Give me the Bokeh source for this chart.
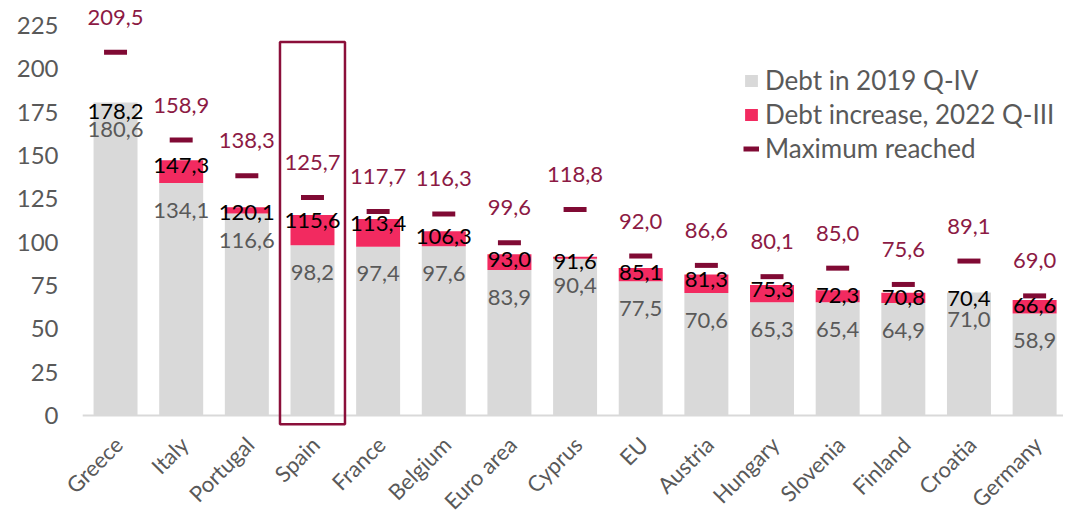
import math
from bokeh.plotting import figure
from bokeh.models import (ColumnDataSource, Legend, LegendItem,
                          FixedTicker, Range1d)
from bokeh.core.properties import value
from bokeh.embed import file_html
from bokeh.resources import INLINE

# ---------------- data ----------------
countries = ["Greece", "Italy", "Portugal", "Spain", "France", "Belgium",
             "Euro area", "Cyprus", "EU", "Austria", "Hungary", "Slovenia",
             "Finland", "Croatia", "Germany"]
debt_2019 = [180.6, 134.1, 116.6, 98.2, 97.4, 97.6, 83.9, 90.4, 77.5, 70.6,
             65.3, 65.4, 64.9, 71.0, 58.9]
debt_2022 = [178.2, 147.3, 120.1, 115.6, 113.4, 106.3, 93.0, 91.6, 85.1, 81.3,
             75.3, 72.3, 70.8, 70.4, 66.6]
max_reached = [209.5, 158.9, 138.3, 125.7, 117.7, 116.3, 99.6, 118.8, 92.0,
               86.6, 80.1, 85.0, 75.6, 89.1, 69.0]
y_ticks = [0, 25, 50, 75, 100, 125, 150, 175, 200, 225]
highlight = "Spain"
legend_labels = ["Debt in 2019 Q-IV", "Debt increase, 2022 Q-III", "Maximum reached"]

# ---------------- styles ----------------
FONT = "Lato"
GRAY_BAR = "#d9d9d9"
PINK = "#f22a60"
MAROON = "#800a34"
MAROON_TXT = "#8c1a44"
TXT_GRAY = "#595959"
BAR_W = 0.67
MARK_W = 0.35


def fmt(v):
    return f"{v:.1f}".replace(".", ",")


pos = list(range(len(countries)))          # category slots on the x scale
inc_top = [max(a, b) for a, b in zip(debt_2019, debt_2022)]
src = ColumnDataSource(dict(
    pos=pos,
    mk0=[i - MARK_W / 2 for i in pos],
    mk1=[i + MARK_W / 2 for i in pos],
    country=countries,
    zero=[0] * len(countries),
    d19=debt_2019,
    d22=debt_2022,
    top=inc_top,
    mx=max_reached,
    l19=[fmt(v) for v in debt_2019],
    l22=[fmt(v) for v in debt_2022],
    lmx=[fmt(v) for v in max_reached],
))

p = figure(
    x_range=Range1d(-1.6, 14.44),
    y_range=Range1d(-57.1, 239.4),
    width=1063, height=514,
    output_backend="svg", toolbar_location=None,
    min_border_left=10, min_border_right=0, min_border_top=0,
    min_border_bottom=0,
)
p.outline_line_color = None
p.xgrid.visible = False
p.ygrid.visible = False
p.background_fill_color = "white"
p.xaxis.visible = False

# bars
r_gray = p.vbar(x="pos", bottom=0, top="d19", width=BAR_W, source=src,
                fill_color=GRAY_BAR, line_color=None)
r_pink = p.vbar(x="pos", bottom="d19", top="top", width=BAR_W, source=src,
                fill_color=PINK, line_color=None)

# category axis baseline at 0, spanning the category bands
p.segment(x0=[pos[0] - 0.5], y0=[0], x1=[pos[-1] + 0.5], y1=[0],
          line_color=GRAY_BAR, line_width=2)

# max markers
r_max = p.segment(x0="mk0", y0="mx", x1="mk1", y1="mx", source=src,
                  line_color=MAROON, line_width=5, line_cap="butt")

# value labels
p.text(x="pos", y="d19", text="l19", source=src, y_offset=27,
       text_align="center", text_baseline="middle", text_color=TXT_GRAY,
       text_font=value(FONT), text_font_size="22px")
p.text(x="pos", y="d22", text="l22", source=src, y_offset=5,
       text_align="center", text_baseline="middle", text_color="#000000",
       text_font=value(FONT), text_font_size="22px")
p.text(x="pos", y="mx", text="lmx", source=src, y_offset=-35,
       text_align="center", text_baseline="middle", text_color=MAROON_TXT,
       text_font=value(FONT), text_font_size="22px")

# category labels (rotated)
p.text(x="pos", y="zero", text="country", source=src, x_offset=3,
       y_offset=25, angle=math.pi / 4, text_align="right",
       text_baseline="middle", text_color=TXT_GRAY,
       text_font=value(FONT), text_font_size="22px")

# highlight box around one category
hi = countries.index(highlight)
box_bottom, box_top = -5, 215.5
p.rect(x=[hi], y=[(box_top + box_bottom) / 2], width=0.99,
       height=box_top - box_bottom, fill_color=None, line_color="#8b0f3a",
       line_width=2.5)

# y axis
p.yaxis.ticker = FixedTicker(ticks=y_ticks)
p.yaxis.axis_line_color = None
p.yaxis.major_tick_line_color = None
p.yaxis.minor_tick_line_color = None
p.yaxis.major_label_standoff = -54
p.yaxis.major_label_text_font = FONT
p.yaxis.major_label_text_font_size = "24px"
p.yaxis.major_label_text_color = TXT_GRAY

legend = Legend(
    items=[LegendItem(label=legend_labels[0], renderers=[r_gray]),
           LegendItem(label=legend_labels[1], renderers=[r_pink]),
           LegendItem(label=legend_labels[2], renderers=[r_max])],
    location=(733, 350),
    border_line_color=None, background_fill_alpha=0,
    label_text_font=FONT, label_text_font_size="26px",
    label_text_color=TXT_GRAY, glyph_width=16, glyph_height=15,
    label_standoff=6, label_height=29, spacing=2, padding=0, margin=0,
)
p.add_layout(legend)

open("out.html", "w").write(file_html(p, INLINE))
